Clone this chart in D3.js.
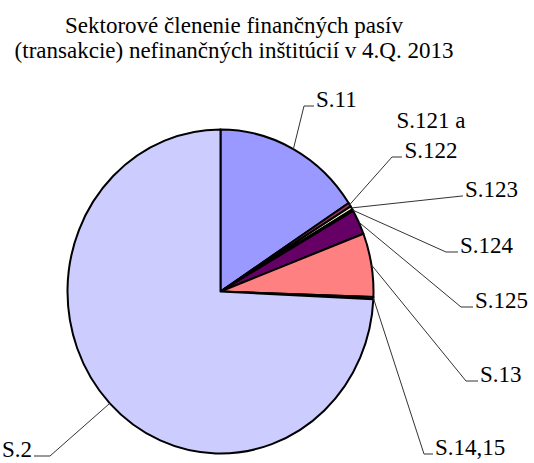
<!DOCTYPE html>
<html>
<head>
<meta charset="utf-8">
<script src="https://cdn.jsdelivr.net/npm/d3@7"></script>
<style>
  body { margin: 0; background: #fff; }
</style>
</head>
<body>
<div id="chart"></div>
<script>
// sektory a podiely (%)
const categories = ["S.11", "S.121 a S.122", "S.123", "S.124", "S.125", "S.13", "S.14,15", "S.2"];
const values = [15.8, 0.4, 0.35, 0.15, 2.5, 6.35, 0.2, 74.25];
const labelLines = [["S.11"], ["S.121 a", "S.122"], ["S.123"], ["S.124"], ["S.125"], ["S.13"], ["S.14,15"], ["S.2"]];
const colors = ["#9999FF", "#993366", "#FFFFCC", "#CCFFFF", "#660066", "#FF8080", "#0066CC", "#CCCCFF"];
const titleLines = ["Sektorové členenie finančných pasív", "(transakcie) nefinančných inštitúcií v 4.Q. 2013"];

// umiestnenie popisov: x zaciatku textu, baseline, lom ciary
const labelLayout = [
    { x: 316, y: 107, ex: 304, anchor: "start" },
    { x: 431, y: 158, ex: 392, anchor: "middle", lx: 402 },
    { x: 465, y: 197, ex: 462, anchor: "start" },
    { x: 460, y: 253, ex: 446, anchor: "start" },
    { x: 475, y: 308, ex: 461, anchor: "start" },
    { x: 480, y: 382, ex: 466, anchor: "start" },
    { x: 435, y: 455, ex: 424, anchor: "start" },
    { x: 32, y: 457, ex: 50, anchor: "end" }
];

const width = 534, height = 463;
const cx = 220.5, cy = 291.5, r = 153, sy = 162 / 153;
const font = "'Liberation Serif', 'Times New Roman', serif";

const svg = d3.select("#chart").append("svg")
    .attr("width", width)
    .attr("height", height)
    .attr("font-family", font);

svg.append("text")
    .attr("x", 234)
    .attr("text-anchor", "middle")
    .attr("font-size", 23)
    .selectAll("tspan")
    .data(titleLines)
    .enter()
    .append("tspan")
    .attr("x", 234)
    .attr("y", (d, i) => 33 + i * 25)
    .text(d => d);

const pie = d3.pie().sort(null).value(d => d)(values);
const arc = d3.arc().innerRadius(0).outerRadius(r);

const g = svg.append("g")
    .attr("transform", `translate(${cx},${cy}) scale(1,${sy})`);

g.selectAll("path")
    .data(pie)
    .enter()
    .append("path")
    .attr("d", arc)
    .attr("fill", (d, i) => colors[i])
    .attr("stroke", "#000")
    .attr("stroke-width", 2)
    .attr("stroke-linejoin", "round")
    .attr("vector-effect", "non-scaling-stroke");

// vodiace ciary
pie.forEach((d, i) => {
    const a = (d.startAngle + d.endAngle) / 2;
    const px = cx + Math.sin(a) * r;
    const py = cy - Math.cos(a) * r * sy;
    const L = labelLayout[i];
    const hy = L.y - 1;
    let hx;
    if (L.anchor === "end") hx = L.x + 2;
    else if (L.lx) hx = L.lx;
    else hx = L.x - 2;
    svg.append("polyline")
        .attr("points", `${px},${py} ${L.ex},${hy} ${hx},${hy}`)
        .attr("fill", "none")
        .attr("stroke", "#333")
        .attr("stroke-width", 1);
});

const labels = svg.selectAll("text.lbl")
    .data(pie)
    .enter()
    .append("text")
    .attr("class", "lbl")
    .attr("text-anchor", (d, i) => labelLayout[i].anchor)
    .attr("font-size", 23);

labels.each(function (d, i) {
    const L = labelLayout[i];
    const lines = labelLines[i];
    d3.select(this).selectAll("tspan")
        .data(lines)
        .enter()
        .append("tspan")
        .attr("x", L.x)
        .attr("y", (t, j) => L.y - (lines.length - 1 - j) * 30)
        .text(t => t);
});
</script>
</body>
</html>
